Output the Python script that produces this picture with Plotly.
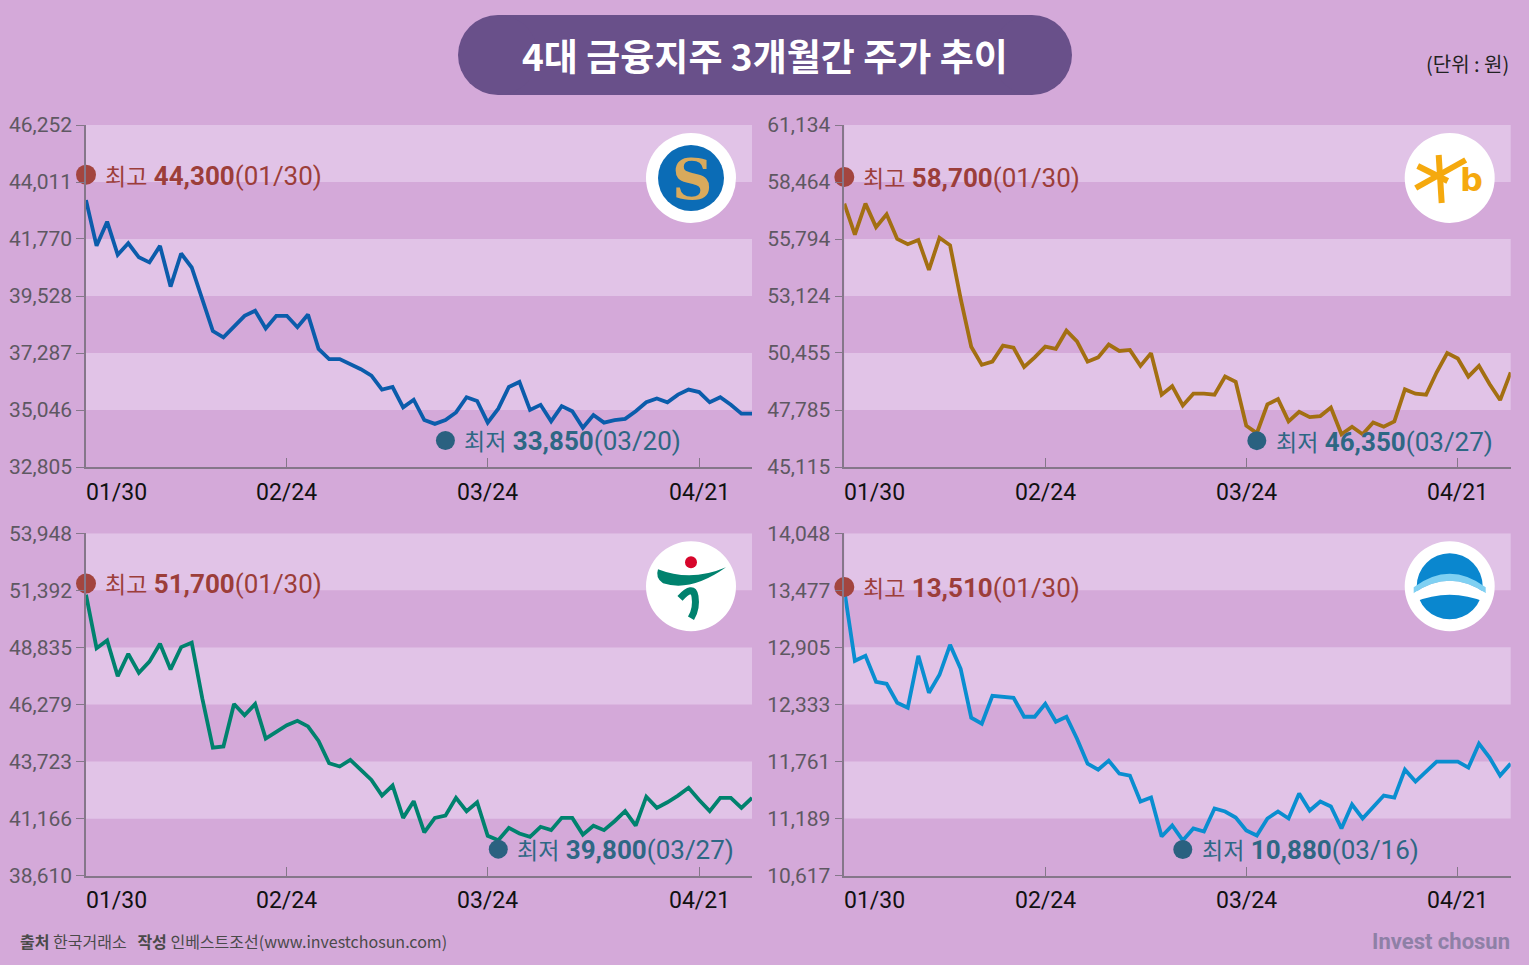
import plotly.graph_objects as go
from plotly.subplots import make_subplots

W, H = 1529, 965

# trading days, 2023-01-30 .. 2023-04-28
dates = ['01/30', '01/31', '02/01', '02/02', '02/03', '02/06', '02/07', '02/08', '02/09', '02/10',
         '02/13', '02/14', '02/15', '02/16', '02/17', '02/20', '02/21', '02/22', '02/23', '02/24',
         '02/27', '02/28', '03/02', '03/03', '03/06', '03/07', '03/08', '03/09', '03/10', '03/13',
         '03/14', '03/15', '03/16', '03/17', '03/20', '03/21', '03/22', '03/23', '03/24', '03/27',
         '03/28', '03/29', '03/30', '03/31', '04/03', '04/04', '04/05', '04/06', '04/07', '04/10',
         '04/11', '04/12', '04/13', '04/14', '04/17', '04/18', '04/19', '04/20', '04/21', '04/24',
         '04/25', '04/26', '04/27', '04/28']

shinhan = [43300, 41500, 42450, 41150, 41600, 41050, 40850, 41500, 39900, 41200,
           40650, 39350, 38150, 37900, 38350, 38750, 38950, 38250, 38750, 38750,
           38300, 38800, 37450, 37050, 37050, 36850, 36650, 36400, 35850, 35950,
           35150, 35450, 34650, 34500, 34650, 34950, 35550, 35400, 34550, 35100,
           35950, 36150, 35050, 35250, 34600, 35200, 35000, 34350, 34850, 34550,
           34650, 34700, 35000, 35350, 35500, 35350, 35650, 35850, 35750, 35350,
           35550, 35250, 34900, 34900]

kb = [57450, 56000, 57450, 56350, 56950, 55800, 55550, 55750, 54350, 55850,
      55500, 53000, 50750, 49900, 50050, 50800, 50700, 49800, 50250, 50750,
      50650, 51500, 51000, 50050, 50250, 50850, 50550, 50600, 49850, 50450,
      48500, 48900, 48000, 48550, 48550, 48500, 49350, 49100, 47050, 46700,
      48050, 48300, 47250, 47700, 47450, 47500, 47900, 46650, 47000, 46650,
      47200, 47000, 47250, 48750, 48550, 48500, 49550, 50450, 50200, 49350,
      49850, 49000, 48250, 49550]

hana = [51200, 48800, 49150, 47550, 48550, 47700, 48200, 49000, 47850, 48850,
        49050, 46550, 44350, 44400, 46300, 45800, 46300, 44750, 45050, 45350,
        45550, 45300, 44650, 43650, 43500, 43800, 43350, 42900, 42200, 42650,
        41200, 41950, 40550, 41200, 41300, 42100, 41500, 41900, 40400, 40200,
        40750, 40500, 40350, 40800, 40650, 41200, 41200, 40450, 40850, 40650,
        41050, 41500, 40850, 42150, 41650, 41900, 42200, 42550, 42000, 41500,
        42100, 42100, 41650, 42100]

woori = [13480, 12770, 12820, 12560, 12540, 12350, 12300, 12820, 12450, 12630,
         12930, 12690, 12200, 12140, 12420, 12410, 12400, 12210, 12210, 12340,
         12160, 12210, 11990, 11740, 11680, 11770, 11640, 11620, 11360, 11400,
         11010, 11120, 10970, 11090, 11060, 11290, 11260, 11200, 11070, 11020,
         11190, 11260, 11190, 11440, 11270, 11360, 11310, 11090, 11330, 11190,
         11310, 11420, 11400, 11680, 11560, 11660, 11760, 11760, 11760, 11700,
         11940, 11800, 11620, 11740]

shinhan_ticks = [32805, 35046, 37287, 39528, 41770, 44011, 46252]
kb_ticks = [45115, 47785, 50455, 53124, 55794, 58464, 61134]
hana_ticks = [38610, 41166, 43723, 46279, 48835, 51392, 53948]
woori_ticks = [10617, 11189, 11761, 12333, 12905, 13477, 14048]

high_values = [44300, 58700, 51700, 13510]
high_dates = ['01/30', '01/30', '01/30', '01/30']
low_values = [33850, 46350, 39800, 10880]
low_dates = ['03/20', '03/27', '03/27', '03/16']

x_tick_dates = ['01/30', '02/24', '03/24', '04/21']

BG = '#d4a9d9'
BAND = '#e1c3e7'
AXIS = '#85778a'
NARROW = 'Roboto, Liberation Sans Narrow, Noto Sans CJK KR, sans-serif'
KOR = 'Noto Sans CJK KR, Noto Sans, sans-serif'

panels = [
    dict(vals=shinhan, ticks=shinhan_ticks, color='#0b5cab', box=(86, 752, 125, 467)),
    dict(vals=kb, ticks=kb_ticks, color='#a36f12', box=(844.3, 1510.7, 125, 467)),
    dict(vals=hana, ticks=hana_ticks, color='#00826e', box=(86, 752, 533.3, 875.7)),
    dict(vals=woori, ticks=woori_ticks, color='#0a8ed0', box=(844.3, 1510.7, 533.3, 875.7)),
]


def px(x):
    return x / W


def py(y):
    return 1 - y / H


def svg(cmds):
    out = []
    for c in cmds:
        out.append(c[0] + ' '.join(f'{px(x):.5f},{py(y):.5f}' for x, y in c[1:]))
    return ' '.join(out)


def circle(cx, cy, r, color):
    return dict(type='circle', xref='paper', yref='paper', x0=px(cx - r), x1=px(cx + r),
                y0=py(cy + r), y1=py(cy - r), fillcolor=color, line_width=0, layer='above')


def note(x, y, text, size, color, family=KOR, xanchor='center'):
    return dict(x=px(x), y=py(y), xref='paper', yref='paper', text=text, showarrow=False,
                xanchor=xanchor, yanchor='middle', font=dict(family=family, size=size, color=color))


fig = make_subplots(rows=2, cols=2)
shapes = []
annotations = []

for i, p in enumerate(panels):
    n = '' if i == 0 else str(i + 1)
    xa, ya = 'x' + n, 'y' + n
    x0, x1, y0, y1 = p['box']
    ticks = p['ticks']
    row, col = i // 2 + 1, i % 2 + 1

    fig.add_trace(go.Scatter(x=dates, y=p['vals'], mode='lines',
                             line=dict(color=p['color'], width=3.8), hoverinfo='skip'),
                  row=row, col=col)
    fig.add_trace(go.Scatter(x=[high_dates[i]], y=[high_values[i]], mode='markers', cliponaxis=False,
                             marker=dict(size=20, color='#a3453f'), hoverinfo='skip'),
                  row=row, col=col)
    fig.add_trace(go.Scatter(x=[low_dates[i]], y=[low_values[i]], mode='markers', cliponaxis=False,
                             marker=dict(size=19, color='#2a6180'), hoverinfo='skip'),
                  row=row, col=col)

    fig.layout[('xaxis' + n)].update(
        domain=[px(x0), px(x1)], type='category', categoryorder='array', categoryarray=dates,
        range=[0, len(dates) - 1], tickvals=x_tick_dates[1:], ticks='inside', ticklen=9,
        tickwidth=1.3, tickcolor=AXIS, showticklabels=False, showline=True, linecolor=AXIS,
        linewidth=1.5, showgrid=False, zeroline=False, automargin=False)
    fig.layout[('yaxis' + n)].update(
        domain=[py(y1), py(y0)], range=[ticks[0], ticks[-1]], tickvals=ticks,
        ticktext=[f'{t:,}' for t in ticks], ticks='outside', ticklen=8, tickwidth=1.3,
        tickcolor=AXIS, showline=True, linecolor=AXIS, linewidth=1.5, showgrid=False,
        zeroline=False, automargin=False,
        tickfont=dict(family=NARROW, size=21, color='#5e5862'))

    # light horizontal bands
    for k in (1, 3, 5):
        shapes.append(dict(type='rect', xref=xa + ' domain', yref=ya, x0=0, x1=1,
                           y0=ticks[k], y1=ticks[k + 1], fillcolor=BAND, line_width=0,
                           layer='below'))

    # x tick labels
    for j, d in enumerate(x_tick_dates):
        annotations.append(dict(x=d, y=0, xref=xa, yref=ya + ' domain', text=d, showarrow=False,
                                xanchor='left' if j == 0 else 'center', yanchor='middle',
                                xshift=-2 if j == 0 else 0, yshift=-25,
                                font=dict(family=NARROW, size=23, color='#111111')))

    # high / low labels
    annotations.append(dict(x=high_dates[i], y=high_values[i], xref=xa, yref=ya, showarrow=False,
                            xanchor='left', yanchor='middle', xshift=17,
                            text=f"<span style='font-family:{KOR};font-size:23px'>최고</span> "
                                 f"<b>{high_values[i]:,}</b>({high_dates[i]})",
                            font=dict(family=NARROW, size=26, color='#9c3e3a')))
    annotations.append(dict(x=low_dates[i], y=low_values[i], xref=xa, yref=ya, showarrow=False,
                            xanchor='left', yanchor='middle', xshift=17,
                            text=f"<span style='font-family:{KOR};font-size:23px'>최저</span> "
                                 f"<b>{low_values[i]:,}</b>({low_dates[i]})",
                            font=dict(family=NARROW, size=26, color='#2e6784')))

# logos (white discs in the upper-right corner of each panel)
logo = [(p['box'][1] - 61, p['box'][2] + 53) for p in panels]
for cx, cy in logo:
    shapes.append(circle(cx, cy, 45, 'white'))

# Shinhan
cx, cy = logo[0]
shapes.append(circle(cx, cy, 33, '#0b6cb6'))
annotations.append(note(cx + 1, cy + 1, '<b>S</b>', 56, '#d9aa5c', family='DejaVu Serif'))
# KB
cx, cy = logo[1]
for a, b in [((-11, -23), (-8, 25)), ((-32, -12), (-2, 3)), ((-34, 10), (16, -18))]:
    shapes.append(dict(type='path', xref='paper', yref='paper', layer='above',
                       path=svg([('M', (cx + a[0], cy + a[1])), ('L', (cx + b[0], cy + b[1]))]),
                       line=dict(color='#f5a90e', width=6)))
annotations.append(note(cx + 22, cy + 2, '<b>b</b>', 32, '#f5a90e', family='DejaVu Sans'))
# Hana
cx, cy = logo[2]
shapes.append(circle(cx, cy - 24, 6, '#d7062b'))
shapes.append(dict(type='path', xref='paper', yref='paper', layer='above', fillcolor='#00826e',
                   line_width=0,
                   path=svg([('M', (cx - 33, cy - 17)), ('Q', (cx, cy - 4), (cx + 35, cy - 19)),
                             ('Q', (cx, cy + 6), (cx - 28, cy - 3)),
                             ('Q', (cx - 36, cy - 8), (cx - 33, cy - 17)), ('Z',)])))
shapes.append(dict(type='path', xref='paper', yref='paper', layer='above',
                   path=svg([('M', (cx - 11, cy + 12)), ('Q', (cx + 2, cy - 2), (cx + 4, cy + 10)),
                             ('Q', (cx + 6, cy + 22), (cx, cy + 32))]),
                   line=dict(color='#00826e', width=7)))
# Woori
cx, cy = logo[3]
shapes.append(circle(cx, cy, 33, '#0a87cf'))
shapes.append(dict(type='path', xref='paper', yref='paper', layer='above', fillcolor='#7fd0f2',
                   line_width=0,
                   path=svg([('M', (cx - 36, cy + 1)), ('Q', (cx, cy - 26), (cx + 36, cy + 1)),
                             ('L', (cx + 36, cy + 7)), ('Q', (cx, cy - 18), (cx - 36, cy + 7)), ('Z',)])))
shapes.append(dict(type='path', xref='paper', yref='paper', layer='above', fillcolor='white',
                   line_width=0,
                   path=svg([('M', (cx - 36, cy + 7)), ('Q', (cx, cy - 18), (cx + 36, cy + 7)),
                             ('L', (cx + 36, cy + 16)), ('Q', (cx, cy + 1), (cx - 36, cy + 16)), ('Z',)])))

# title pill
shapes.append(dict(type='rect', xref='paper', yref='paper', x0=px(498), x1=px(1032), y0=py(95),
                   y1=py(15), fillcolor='#69508a', line_width=0, layer='above'))
shapes.append(circle(498, 55, 40, '#69508a'))
shapes.append(circle(1032, 55, 40, '#69508a'))
annotations.append(note(765, 55, '<b>4대 금융지주 3개월간 주가 추이</b>', 37, 'white'))
annotations.append(note(1511, 64, '(단위 : 원)', 20, '#222222', xanchor='right'))
annotations.append(note(18, 941,
                        '<b>출처</b> 한국거래소\u00a0\u00a0\u00a0<b>작성</b> 인베스트조선(www.investchosun.com)',
                        16, '#4a4a4a', xanchor='left'))
annotations.append(note(1512, 941, '<b>Invest chosun</b>', 22, '#8e80a6',
                        family='Roboto, DejaVu Sans', xanchor='right'))

fig.update_layout(
    width=W, height=H, autosize=False,
    margin=dict(l=0, r=0, t=0, b=0, pad=0, autoexpand=False),
    paper_bgcolor=BG, plot_bgcolor='rgba(0,0,0,0)',
    showlegend=False,
    shapes=shapes,
    annotations=annotations,
)

fig.write_html('out.html', config={'displayModeBar': False},
               post_script="document.body.style.margin='0';")
